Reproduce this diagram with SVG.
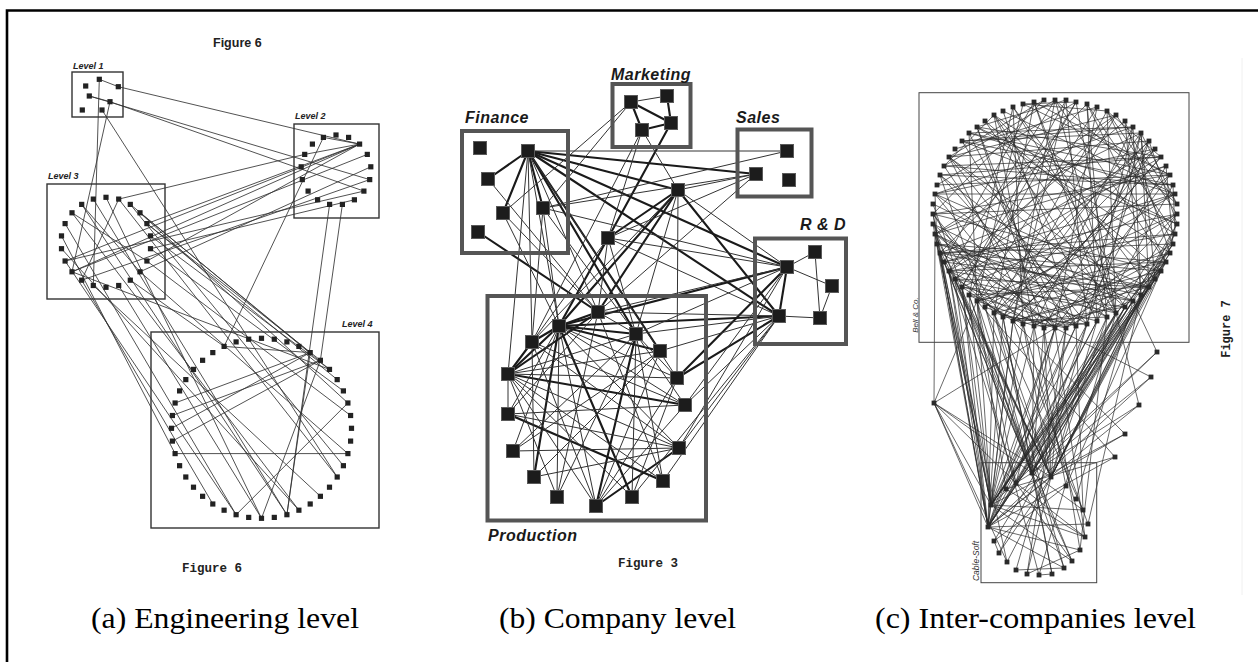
<svg xmlns="http://www.w3.org/2000/svg" xmlns:xlink="http://www.w3.org/1999/xlink" width="1258" height="662" viewBox="0 0 1258 662">
<style>
.bxa{fill:none;stroke:#333;stroke-width:1.4}
.na{fill:#222}
.ea line{stroke:#333;stroke-width:0.85}
.bxb{fill:none;stroke:#555;stroke-width:4}
.nb{fill:#1c1c1c;stroke:#5a5a5a;stroke-width:1}
.tn{stroke:#333;stroke-width:1}
.tk{stroke:#1a1a1a;stroke-width:2.1}
.eb line{stroke-linecap:round}
.bxc{fill:none;stroke:#444;stroke-width:1}
.nc{fill:#2a2a2a}
.ec line{stroke:#2a2a2a;stroke-width:0.7}
.lva{font-family:"Liberation Sans",Arial,sans-serif;font-weight:bold;font-style:italic;font-size:9px;fill:#222}
.lvb{font-family:"Liberation Sans",Arial,sans-serif;font-weight:bold;font-style:italic;font-size:16px;letter-spacing:0.5px;fill:#1a1a1a}
.lvc{font-family:"Liberation Sans",Arial,sans-serif;font-style:italic;font-size:8px;fill:#333}
.fig{font-family:"Liberation Mono","Courier New",monospace;font-weight:bold;font-size:12.5px;fill:#222}
.cap{font-family:"Liberation Serif","Times New Roman",serif;font-size:29.5px;fill:#000}
</style>
<defs>
<rect id="sa" x="-2.6" y="-2.6" width="5.2" height="5.2"/>
<rect id="sb" x="-6.5" y="-6.5" width="13" height="13"/>
<rect id="sc" x="-2.4" y="-2.4" width="4.8" height="4.8"/>
</defs>
<rect width="1258" height="662" fill="#fff"/>
<path d="M7,662 V10.5 H1258" fill="none" stroke="#000" stroke-width="2.6"/>
<line x1="1242" y1="58" x2="1242" y2="595" stroke="#f0f0f0" stroke-width="1"/>

<!-- ===================== CONNECTORS ===================== -->
<g id="connectors">
<g id="conn-a" class="ea">
<line x1="99.3" y1="79.3" x2="118.3" y2="86.7"/>
<line x1="118.3" y1="86.7" x2="359.6" y2="144.1"/>
<line x1="89.3" y1="96" x2="110" y2="101.7"/>
<line x1="89.3" y1="96" x2="369.7" y2="179.6"/>
<line x1="110" y1="101.7" x2="363.9" y2="191.1"/>
<line x1="99.3" y1="79.3" x2="93.3" y2="285.5"/>
<line x1="110" y1="101.7" x2="72" y2="271.8"/>
<line x1="102" y1="110" x2="337.2" y2="477"/>
<line x1="118.7" y1="199.1" x2="304.7" y2="154.4"/>
<line x1="72" y1="271.8" x2="359.6" y2="144.1"/>
<line x1="72" y1="271.8" x2="367.3" y2="154.4"/>
<line x1="65.1" y1="261" x2="359.6" y2="144.1"/>
<line x1="65.1" y1="261" x2="363.9" y2="191.1"/>
<line x1="81.7" y1="280.2" x2="369.7" y2="179.6"/>
<line x1="146.9" y1="223.6" x2="359.6" y2="144.1"/>
<line x1="150.5" y1="248.7" x2="354.4" y2="199.8"/>
<line x1="146.9" y1="261" x2="359.6" y2="144.1"/>
<line x1="140" y1="271.8" x2="370.8" y2="166.8"/>
<line x1="140" y1="212.8" x2="310.2" y2="352.6"/>
<line x1="146.9" y1="223.6" x2="320.4" y2="360.3"/>
<line x1="150.5" y1="235.9" x2="329.5" y2="369.4"/>
<line x1="146.9" y1="223.6" x2="337.2" y2="379.6"/>
<line x1="150.5" y1="248.7" x2="343.4" y2="390.9"/>
<line x1="130.3" y1="204.4" x2="329.5" y2="369.4"/>
<line x1="140" y1="212.8" x2="347.9" y2="403"/>
<line x1="106" y1="197.3" x2="261.5" y2="518.3"/>
<line x1="81.7" y1="204.4" x2="286.9" y2="514.7"/>
<line x1="72" y1="212.8" x2="298.9" y2="510.2"/>
<line x1="65.1" y1="261" x2="236.1" y2="514.7"/>
<line x1="81.7" y1="280.2" x2="212.8" y2="504"/>
<line x1="61.5" y1="235.9" x2="175.1" y2="453.6"/>
<line x1="93.3" y1="199.1" x2="286.9" y2="514.7"/>
<line x1="118.7" y1="285.5" x2="261.5" y2="518.3"/>
<line x1="93.3" y1="285.5" x2="320.4" y2="496.3"/>
<line x1="130.3" y1="280.2" x2="224.1" y2="346.4"/>
<line x1="140" y1="271.8" x2="347.9" y2="453.6"/>
<line x1="146.9" y1="261" x2="350.6" y2="415.5"/>
<line x1="323.4" y1="137.4" x2="224.1" y2="346.4"/>
<line x1="342.4" y1="204.4" x2="320.4" y2="360.3"/>
<line x1="329.6" y1="204.4" x2="286.9" y2="514.7"/>
<line x1="175.1" y1="453.6" x2="347.9" y2="453.6"/>
<line x1="224.1" y1="346.4" x2="310.2" y2="352.6"/>
<line x1="175.1" y1="403" x2="310.2" y2="352.6"/>
<line x1="172.4" y1="415.5" x2="320.4" y2="360.3"/>
<line x1="171.5" y1="428.3" x2="310.2" y2="352.6"/>
<line x1="172.4" y1="441.1" x2="320.4" y2="360.3"/>
<line x1="347.9" y1="403" x2="236.1" y2="514.7"/>
<line x1="320.4" y1="360.3" x2="261.5" y2="518.3"/>
<line x1="310.2" y1="352.6" x2="286.9" y2="514.7"/>
<line x1="323.4" y1="137.4" x2="359.6" y2="144.1"/>
<line x1="359.6" y1="144.1" x2="304.7" y2="154.4"/>
<line x1="61.5" y1="248.7" x2="298.9" y2="510.2"/>
<line x1="65.1" y1="223.6" x2="236.1" y2="514.7"/>
<line x1="81.7" y1="204.4" x2="140" y2="271.8"/>
<line x1="118.7" y1="199.1" x2="81.7" y2="280.2"/>
<line x1="72" y1="212.8" x2="146.9" y2="261"/>
<line x1="130.3" y1="204.4" x2="343.4" y2="465.7"/>
<line x1="118.7" y1="199.1" x2="337.2" y2="477"/>
<line x1="72" y1="271.8" x2="329.5" y2="369.4"/>
</g>

<g id="conn-b" class="eb">
<line class="tk" x1="667" y1="96" x2="671" y2="123"/>
<line class="tk" x1="631" y1="102" x2="671" y2="123"/>
<line class="tk" x1="631" y1="102" x2="642" y2="130"/>
<line class="tk" x1="642" y1="130" x2="671" y2="123"/>
<line class="tk" x1="528" y1="151" x2="488" y2="179"/>
<line class="tk" x1="528" y1="151" x2="503" y2="213"/>
<line class="tk" x1="528" y1="151" x2="543" y2="208"/>
<line class="tk" x1="528" y1="151" x2="756" y2="174"/>
<line class="tk" x1="528" y1="151" x2="678" y2="190"/>
<line class="tk" x1="528" y1="151" x2="787" y2="267"/>
<line class="tk" x1="528" y1="151" x2="779" y2="316"/>
<line class="tk" x1="528" y1="151" x2="636" y2="334"/>
<line class="tk" x1="528" y1="151" x2="660" y2="351"/>
<line class="tk" x1="478" y1="232" x2="598" y2="312"/>
<line class="tk" x1="671" y1="123" x2="608" y2="238"/>
<line class="tk" x1="678" y1="190" x2="608" y2="238"/>
<line class="tk" x1="678" y1="190" x2="559" y2="326"/>
<line class="tk" x1="678" y1="190" x2="598" y2="312"/>
<line class="tk" x1="678" y1="190" x2="779" y2="316"/>
<line class="tk" x1="608" y1="238" x2="559" y2="326"/>
<line class="tk" x1="559" y1="326" x2="787" y2="267"/>
<line class="tk" x1="559" y1="326" x2="779" y2="316"/>
<line class="tk" x1="677" y1="378" x2="779" y2="316"/>
<line class="tk" x1="677" y1="378" x2="787" y2="267"/>
<line class="tk" x1="787" y1="267" x2="779" y2="316"/>
<line class="tk" x1="559" y1="326" x2="598" y2="312"/>
<line class="tk" x1="559" y1="326" x2="636" y2="334"/>
<line class="tk" x1="559" y1="326" x2="532" y2="342"/>
<line class="tk" x1="559" y1="326" x2="660" y2="351"/>
<line class="tk" x1="559" y1="326" x2="508" y2="374"/>
<line class="tk" x1="559" y1="326" x2="534" y2="477"/>
<line class="tk" x1="559" y1="326" x2="632" y2="497"/>
<line class="tk" x1="598" y1="312" x2="508" y2="374"/>
<line class="tk" x1="636" y1="334" x2="596" y2="506"/>
<line class="tk" x1="532" y1="342" x2="508" y2="374"/>
<line class="tk" x1="508" y1="374" x2="685" y2="405"/>
<line class="tk" x1="508" y1="414" x2="663" y2="481"/>
<line class="tk" x1="596" y1="506" x2="679" y2="448"/>
<line class="tn" x1="631" y1="102" x2="667" y2="96"/>
<line class="tn" x1="528" y1="151" x2="787" y2="151"/>
<line class="tn" x1="528" y1="151" x2="598" y2="312"/>
<line class="tn" x1="528" y1="151" x2="559" y2="326"/>
<line class="tn" x1="528" y1="151" x2="532" y2="342"/>
<line class="tn" x1="528" y1="151" x2="677" y2="378"/>
<line class="tn" x1="528" y1="151" x2="508" y2="374"/>
<line class="tn" x1="543" y1="208" x2="787" y2="151"/>
<line class="tn" x1="543" y1="208" x2="787" y2="267"/>
<line class="tn" x1="543" y1="208" x2="559" y2="326"/>
<line class="tn" x1="543" y1="208" x2="532" y2="342"/>
<line class="tn" x1="543" y1="208" x2="636" y2="334"/>
<line class="tn" x1="756" y1="174" x2="543" y2="208"/>
<line class="tn" x1="503" y1="213" x2="631" y2="102"/>
<line class="tn" x1="503" y1="213" x2="559" y2="326"/>
<line class="tn" x1="503" y1="213" x2="598" y2="312"/>
<line class="tn" x1="488" y1="179" x2="598" y2="312"/>
<line class="tn" x1="631" y1="102" x2="543" y2="208"/>
<line class="tn" x1="642" y1="130" x2="608" y2="238"/>
<line class="tn" x1="642" y1="130" x2="532" y2="342"/>
<line class="tn" x1="642" y1="130" x2="678" y2="190"/>
<line class="tn" x1="678" y1="190" x2="677" y2="378"/>
<line class="tn" x1="678" y1="190" x2="756" y2="174"/>
<line class="tn" x1="678" y1="190" x2="787" y2="267"/>
<line class="tn" x1="678" y1="190" x2="532" y2="342"/>
<line class="tn" x1="678" y1="190" x2="636" y2="334"/>
<line class="tn" x1="608" y1="238" x2="787" y2="267"/>
<line class="tn" x1="608" y1="238" x2="779" y2="316"/>
<line class="tn" x1="608" y1="238" x2="598" y2="312"/>
<line class="tn" x1="608" y1="238" x2="532" y2="342"/>
<line class="tn" x1="608" y1="238" x2="636" y2="334"/>
<line class="tn" x1="756" y1="174" x2="598" y2="312"/>
<line class="tn" x1="756" y1="174" x2="608" y2="238"/>
<line class="tn" x1="598" y1="312" x2="779" y2="316"/>
<line class="tn" x1="598" y1="312" x2="787" y2="267"/>
<line class="tn" x1="636" y1="334" x2="779" y2="316"/>
<line class="tn" x1="636" y1="334" x2="787" y2="267"/>
<line class="tn" x1="660" y1="351" x2="779" y2="316"/>
<line class="tn" x1="685" y1="405" x2="787" y2="267"/>
<line class="tn" x1="685" y1="405" x2="779" y2="316"/>
<line class="tn" x1="679" y1="448" x2="779" y2="316"/>
<line class="tn" x1="663" y1="481" x2="779" y2="316"/>
<line class="tn" x1="679" y1="448" x2="787" y2="267"/>
<line class="tn" x1="632" y1="497" x2="779" y2="316"/>
<line class="tn" x1="787" y1="267" x2="815" y2="252"/>
<line class="tn" x1="787" y1="267" x2="832" y2="286"/>
<line class="tn" x1="815" y1="252" x2="820" y2="318"/>
<line class="tn" x1="832" y1="286" x2="820" y2="318"/>
<line class="tn" x1="779" y1="316" x2="820" y2="318"/>
<line class="tn" x1="559" y1="326" x2="677" y2="378"/>
<line class="tn" x1="559" y1="326" x2="685" y2="405"/>
<line class="tn" x1="559" y1="326" x2="508" y2="414"/>
<line class="tn" x1="559" y1="326" x2="596" y2="506"/>
<line class="tn" x1="559" y1="326" x2="513" y2="451"/>
<line class="tn" x1="559" y1="326" x2="679" y2="448"/>
<line class="tn" x1="559" y1="326" x2="557" y2="497"/>
<line class="tn" x1="598" y1="312" x2="636" y2="334"/>
<line class="tn" x1="598" y1="312" x2="557" y2="497"/>
<line class="tn" x1="598" y1="312" x2="508" y2="414"/>
<line class="tn" x1="598" y1="312" x2="663" y2="481"/>
<line class="tn" x1="636" y1="334" x2="632" y2="497"/>
<line class="tn" x1="636" y1="334" x2="663" y2="481"/>
<line class="tn" x1="636" y1="334" x2="508" y2="374"/>
<line class="tn" x1="636" y1="334" x2="557" y2="497"/>
<line class="tn" x1="636" y1="334" x2="685" y2="405"/>
<line class="tn" x1="636" y1="334" x2="677" y2="378"/>
<line class="tn" x1="532" y1="342" x2="685" y2="405"/>
<line class="tn" x1="532" y1="342" x2="679" y2="448"/>
<line class="tn" x1="532" y1="342" x2="596" y2="506"/>
<line class="tn" x1="532" y1="342" x2="534" y2="477"/>
<line class="tn" x1="508" y1="374" x2="677" y2="378"/>
<line class="tn" x1="508" y1="374" x2="679" y2="448"/>
<line class="tn" x1="508" y1="374" x2="663" y2="481"/>
<line class="tn" x1="508" y1="374" x2="632" y2="497"/>
<line class="tn" x1="508" y1="374" x2="508" y2="414"/>
<line class="tn" x1="508" y1="374" x2="557" y2="497"/>
<line class="tn" x1="508" y1="374" x2="596" y2="506"/>
<line class="tn" x1="508" y1="374" x2="660" y2="351"/>
<line class="tn" x1="508" y1="414" x2="679" y2="448"/>
<line class="tn" x1="508" y1="414" x2="685" y2="405"/>
<line class="tn" x1="513" y1="451" x2="636" y2="334"/>
<line class="tn" x1="534" y1="477" x2="660" y2="351"/>
<line class="tn" x1="534" y1="477" x2="679" y2="448"/>
<line class="tn" x1="596" y1="506" x2="685" y2="405"/>
<line class="tn" x1="596" y1="506" x2="660" y2="351"/>
<line class="tn" x1="596" y1="506" x2="677" y2="378"/>
<line class="tn" x1="632" y1="497" x2="677" y2="378"/>
<line class="tn" x1="679" y1="448" x2="513" y2="451"/>
<line class="tn" x1="660" y1="351" x2="513" y2="451"/>
</g>

<g id="conn-c" class="ec">
<line x1="1055" y1="100" x2="1177" y2="204"/>
<line x1="1066" y1="100" x2="962" y2="287"/>
<line x1="1087" y1="104" x2="1097" y2="321"/>
<line x1="1097" y1="107" x2="955" y2="149"/>
<line x1="1107" y1="111" x2="1177" y2="214"/>
<line x1="1116" y1="115" x2="955" y2="279"/>
<line x1="1133" y1="127" x2="1087" y2="324"/>
<line x1="1141" y1="133" x2="962" y2="141"/>
<line x1="1149" y1="141" x2="1177" y2="224"/>
<line x1="1155" y1="149" x2="949" y2="271"/>
<line x1="1161" y1="157" x2="1107" y2="111"/>
<line x1="1166" y1="166" x2="1076" y2="326"/>
<line x1="1170" y1="175" x2="969" y2="133"/>
<line x1="1173" y1="185" x2="1175" y2="234"/>
<line x1="1175" y1="194" x2="944" y2="262"/>
<line x1="1177" y1="204" x2="1116" y2="115"/>
<line x1="1177" y1="214" x2="1066" y2="328"/>
<line x1="1177" y1="224" x2="977" y2="127"/>
<line x1="1173" y1="244" x2="940" y2="253"/>
<line x1="1170" y1="253" x2="1125" y2="121"/>
<line x1="1166" y1="262" x2="1055" y2="328"/>
<line x1="1161" y1="271" x2="985" y2="121"/>
<line x1="1149" y1="287" x2="937" y2="244"/>
<line x1="1141" y1="295" x2="1133" y2="127"/>
<line x1="1133" y1="301" x2="1044" y2="328"/>
<line x1="1125" y1="307" x2="994" y2="115"/>
<line x1="1116" y1="313" x2="1166" y2="262"/>
<line x1="1107" y1="317" x2="935" y2="234"/>
<line x1="1097" y1="321" x2="1141" y2="133"/>
<line x1="1087" y1="324" x2="1034" y2="326"/>
<line x1="1076" y1="326" x2="1003" y2="111"/>
<line x1="1066" y1="328" x2="1161" y2="271"/>
<line x1="1055" y1="328" x2="933" y2="224"/>
<line x1="1044" y1="328" x2="1149" y2="141"/>
<line x1="1023" y1="324" x2="1013" y2="107"/>
<line x1="1013" y1="321" x2="1155" y2="279"/>
<line x1="1003" y1="317" x2="933" y2="214"/>
<line x1="994" y1="313" x2="1155" y2="149"/>
<line x1="977" y1="301" x2="1023" y2="104"/>
<line x1="969" y1="295" x2="1149" y2="287"/>
<line x1="962" y1="287" x2="933" y2="204"/>
<line x1="955" y1="279" x2="1161" y2="157"/>
<line x1="949" y1="271" x2="1003" y2="317"/>
<line x1="944" y1="262" x2="1034" y2="102"/>
<line x1="940" y1="253" x2="1141" y2="295"/>
<line x1="937" y1="244" x2="935" y2="194"/>
<line x1="935" y1="234" x2="1166" y2="166"/>
<line x1="933" y1="224" x2="994" y2="313"/>
<line x1="933" y1="214" x2="1044" y2="100"/>
<line x1="933" y1="204" x2="1133" y2="301"/>
<line x1="937" y1="185" x2="1170" y2="175"/>
<line x1="940" y1="175" x2="985" y2="307"/>
<line x1="944" y1="166" x2="1055" y2="100"/>
<line x1="949" y1="157" x2="1125" y2="307"/>
<line x1="962" y1="141" x2="1173" y2="185"/>
<line x1="969" y1="133" x2="977" y2="301"/>
<line x1="977" y1="127" x2="1066" y2="100"/>
<line x1="985" y1="121" x2="1116" y2="313"/>
<line x1="994" y1="115" x2="944" y2="166"/>
<line x1="1003" y1="111" x2="1175" y2="194"/>
<line x1="1013" y1="107" x2="969" y2="295"/>
<line x1="1023" y1="104" x2="1076" y2="102"/>
<line x1="1034" y1="102" x2="1107" y2="317"/>
<line x1="1044" y1="100" x2="949" y2="157"/>
<line x1="1055" y1="100" x2="1166" y2="262"/>
<line x1="1066" y1="100" x2="1087" y2="324"/>
<line x1="1076" y1="102" x2="937" y2="185"/>
<line x1="1087" y1="104" x2="1166" y2="262"/>
<line x1="1107" y1="111" x2="1023" y2="104"/>
<line x1="1125" y1="121" x2="1141" y2="295"/>
<line x1="1133" y1="127" x2="969" y2="133"/>
<line x1="1141" y1="133" x2="1003" y2="317"/>
<line x1="1149" y1="141" x2="1087" y2="324"/>
<line x1="1155" y1="149" x2="1023" y2="324"/>
<line x1="1161" y1="157" x2="944" y2="166"/>
<line x1="1166" y1="166" x2="1173" y2="244"/>
<line x1="1170" y1="175" x2="1023" y2="104"/>
<line x1="1173" y1="185" x2="944" y2="166"/>
<line x1="1175" y1="194" x2="969" y2="133"/>
<line x1="1177" y1="204" x2="1141" y2="133"/>
<line x1="1177" y1="214" x2="1003" y2="317"/>
<line x1="1175" y1="234" x2="1087" y2="104"/>
<line x1="1173" y1="244" x2="1107" y2="111"/>
<line x1="1166" y1="262" x2="937" y2="244"/>
<line x1="1155" y1="279" x2="1141" y2="133"/>
<line x1="1149" y1="287" x2="1141" y2="133"/>
<line x1="1141" y1="295" x2="1166" y2="262"/>
<line x1="1133" y1="301" x2="937" y2="244"/>
<line x1="1125" y1="307" x2="1173" y2="244"/>
<line x1="1116" y1="313" x2="1107" y2="111"/>
<line x1="1107" y1="317" x2="1087" y2="104"/>
<line x1="1097" y1="321" x2="1173" y2="185"/>
<line x1="1087" y1="324" x2="1003" y2="317"/>
<line x1="1076" y1="326" x2="1141" y2="133"/>
<line x1="1066" y1="328" x2="969" y2="133"/>
<line x1="1055" y1="328" x2="944" y2="166"/>
<line x1="977" y1="301" x2="1055" y2="328"/>
<line x1="969" y1="295" x2="1076" y2="326"/>
<line x1="962" y1="287" x2="1097" y2="321"/>
<line x1="955" y1="279" x2="1116" y2="313"/>
<line x1="949" y1="271" x2="1133" y2="301"/>
<line x1="944" y1="262" x2="1149" y2="287"/>
<line x1="940" y1="253" x2="1161" y2="271"/>
<line x1="985" y1="307" x2="1034" y2="326"/>
<line x1="994" y1="313" x2="1066" y2="328"/>
<line x1="1013" y1="321" x2="1107" y2="317"/>
<line x1="1023" y1="324" x2="1125" y2="307"/>
<line x1="962" y1="287" x2="1013" y2="321"/>
<line x1="955" y1="279" x2="1044" y2="328"/>
<line x1="969" y1="295" x2="1023" y2="324"/>
<line x1="935" y1="234" x2="1055" y2="328"/>
<line x1="933" y1="224" x2="1116" y2="313"/>
<line x1="949" y1="271" x2="1175" y2="234"/>
<line x1="977" y1="301" x2="1170" y2="253"/>
<line x1="985" y1="307" x2="1175" y2="194"/>
<line x1="944" y1="262" x2="1177" y2="214"/>
<line x1="940" y1="253" x2="1076" y2="326"/>
<line x1="955" y1="279" x2="1149" y2="287"/>
<line x1="994" y1="313" x2="1161" y2="271"/>
<line x1="1034" y1="326" x2="1170" y2="253"/>
<line x1="1055" y1="328" x2="1170" y2="175"/>
<line x1="1013" y1="321" x2="1161" y2="157"/>
<line x1="977" y1="301" x2="1097" y2="107"/>
<line x1="962" y1="287" x2="1076" y2="102"/>
<line x1="949" y1="271" x2="1055" y2="100"/>
<line x1="994" y1="313" x2="1034" y2="102"/>
<line x1="1034" y1="326" x2="994" y2="115"/>
<line x1="1076" y1="326" x2="962" y2="141"/>
<line x1="1116" y1="313" x2="940" y2="175"/>
<line x1="1149" y1="287" x2="935" y2="194"/>
<line x1="985" y1="307" x2="1149" y2="141"/>
<line x1="1003" y1="317" x2="1116" y2="115"/>
<line x1="1044" y1="328" x2="977" y2="127"/>
<line x1="1087" y1="324" x2="949" y2="157"/>
<line x1="949" y1="271" x2="1166" y2="262"/>
<line x1="1055" y1="100" x2="1013" y2="321"/>
<line x1="1076" y1="102" x2="1116" y2="313"/>
<line x1="1116" y1="115" x2="935" y2="234"/>
<line x1="1133" y1="127" x2="935" y2="194"/>
<line x1="1149" y1="141" x2="949" y2="157"/>
<line x1="1161" y1="157" x2="977" y2="127"/>
<line x1="1170" y1="175" x2="933" y2="214"/>
<line x1="994" y1="115" x2="1175" y2="234"/>
<line x1="1013" y1="107" x2="1149" y2="287"/>
<line x1="1034" y1="102" x2="1170" y2="175"/>
<line x1="962" y1="141" x2="1133" y2="127"/>
<line x1="940" y1="175" x2="1161" y2="157"/>
<line x1="935" y1="194" x2="1175" y2="194"/>
<line x1="1055" y1="100" x2="1116" y2="313"/>
<line x1="1066" y1="100" x2="1013" y2="321"/>
<line x1="1076" y1="102" x2="969" y2="295"/>
<line x1="1087" y1="104" x2="940" y2="253"/>
<line x1="1097" y1="107" x2="1055" y2="328"/>
<line x1="1107" y1="111" x2="994" y2="313"/>
<line x1="1116" y1="115" x2="949" y2="157"/>
<line x1="1125" y1="121" x2="949" y2="271"/>
<line x1="1133" y1="127" x2="1034" y2="326"/>
<line x1="1141" y1="133" x2="935" y2="234"/>
<line x1="1149" y1="141" x2="977" y2="301"/>
<line x1="1155" y1="149" x2="935" y2="194"/>
<line x1="1161" y1="157" x2="1013" y2="321"/>
<line x1="1166" y1="166" x2="940" y2="253"/>
<line x1="1170" y1="175" x2="994" y2="313"/>
<line x1="1173" y1="185" x2="940" y2="175"/>
<line x1="1175" y1="194" x2="962" y2="287"/>
<line x1="1177" y1="204" x2="933" y2="214"/>
<line x1="1177" y1="214" x2="977" y2="301"/>
<line x1="1177" y1="224" x2="962" y2="141"/>
<line x1="1175" y1="234" x2="940" y2="253"/>
<line x1="1173" y1="244" x2="1034" y2="326"/>
<line x1="1170" y1="253" x2="977" y2="127"/>
<line x1="1166" y1="262" x2="977" y2="301"/>
<line x1="1161" y1="271" x2="933" y2="214"/>
<line x1="1155" y1="279" x2="994" y2="115"/>
<line x1="1149" y1="287" x2="1013" y2="321"/>
<line x1="1141" y1="295" x2="949" y2="157"/>
<line x1="1133" y1="301" x2="1013" y2="107"/>
<line x1="1125" y1="307" x2="962" y2="287"/>
<line x1="1116" y1="313" x2="1034" y2="102"/>
<line x1="1107" y1="317" x2="935" y2="194"/>
<line x1="1097" y1="321" x2="994" y2="115"/>
<line x1="1087" y1="324" x2="935" y2="234"/>
<line x1="1076" y1="326" x2="940" y2="175"/>
<line x1="1066" y1="328" x2="949" y2="271"/>
<line x1="1055" y1="328" x2="977" y2="127"/>
<line x1="1044" y1="328" x2="935" y2="194"/>
<line x1="1034" y1="326" x2="949" y2="157"/>
<line x1="1023" y1="324" x2="933" y2="214"/>
<!-- Bell to Cable-Soft -->
<line x1="1161" y1="271" x2="991" y2="505"/>
<line x1="1149" y1="287" x2="991" y2="505"/>
<line x1="1116" y1="313" x2="991" y2="505"/>
<line x1="1076" y1="326" x2="991" y2="505"/>
<line x1="1034" y1="326" x2="991" y2="505"/>
<line x1="977" y1="301" x2="991" y2="505"/>
<line x1="949" y1="271" x2="991" y2="505"/>
<line x1="935" y1="234" x2="991" y2="505"/>
<line x1="1175" y1="234" x2="991" y2="505"/>
<line x1="1013" y1="321" x2="991" y2="505"/>
<line x1="1170" y1="253" x2="988" y2="527"/>
<line x1="1133" y1="301" x2="988" y2="527"/>
<line x1="1097" y1="321" x2="988" y2="527"/>
<line x1="1055" y1="328" x2="988" y2="527"/>
<line x1="994" y1="313" x2="988" y2="527"/>
<line x1="962" y1="287" x2="988" y2="527"/>
<line x1="940" y1="253" x2="988" y2="527"/>
<line x1="933" y1="214" x2="988" y2="527"/>
<line x1="1177" y1="214" x2="988" y2="527"/>
<line x1="1155" y1="279" x2="1032" y2="473"/>
<line x1="1125" y1="307" x2="1032" y2="473"/>
<line x1="1087" y1="324" x2="1032" y2="473"/>
<line x1="1044" y1="328" x2="1032" y2="473"/>
<line x1="1003" y1="317" x2="1032" y2="473"/>
<line x1="969" y1="295" x2="1032" y2="473"/>
<line x1="944" y1="262" x2="1032" y2="473"/>
<line x1="933" y1="224" x2="1032" y2="473"/>
<line x1="1173" y1="244" x2="1032" y2="473"/>
<line x1="1166" y1="262" x2="1051" y2="477"/>
<line x1="1141" y1="295" x2="1051" y2="477"/>
<line x1="1107" y1="317" x2="1051" y2="477"/>
<line x1="1066" y1="328" x2="1051" y2="477"/>
<line x1="1023" y1="324" x2="1051" y2="477"/>
<line x1="985" y1="307" x2="1051" y2="477"/>
<line x1="955" y1="279" x2="1051" y2="477"/>
<line x1="937" y1="244" x2="1051" y2="477"/>
<line x1="1177" y1="224" x2="1051" y2="477"/>
<line x1="1116" y1="313" x2="1016" y2="483"/>
<line x1="1055" y1="328" x2="1016" y2="483"/>
<line x1="977" y1="301" x2="1016" y2="483"/>
<line x1="949" y1="271" x2="1016" y2="483"/>
<line x1="1066" y1="328" x2="1027" y2="574"/>
<line x1="1003" y1="317" x2="1052" y2="574"/>
<line x1="969" y1="295" x2="1064" y2="568"/>
<line x1="1023" y1="324" x2="1085" y2="537"/>
<line x1="1087" y1="324" x2="1016" y2="570"/>
<line x1="962" y1="287" x2="1039" y2="575"/>
<line x1="1125" y1="307" x2="999" y2="553"/>
<line x1="1141" y1="295" x2="1088" y2="524"/>
<line x1="1107" y1="317" x2="1080" y2="550"/>
<line x1="994" y1="313" x2="1083" y2="510"/>
<line x1="1034" y1="326" x2="1066" y2="486"/>
<line x1="955" y1="279" x2="1072" y2="561"/>
<line x1="940" y1="253" x2="1007" y2="562"/>
<line x1="1149" y1="287" x2="994" y2="541"/>
<line x1="1133" y1="301" x2="1076" y2="499"/>
<line x1="977" y1="301" x2="1006" y2="489"/>
<line x1="1076" y1="326" x2="1083" y2="510"/>
<line x1="1097" y1="321" x2="1006" y2="489"/>
<line x1="1013" y1="321" x2="1088" y2="524"/>
<line x1="1044" y1="328" x2="1080" y2="550"/>
<line x1="1175" y1="234" x2="1051" y2="477"/>
<line x1="1170" y1="253" x2="1032" y2="473"/>
<line x1="1161" y1="271" x2="988" y2="527"/>
<line x1="1149" y1="287" x2="1051" y2="477"/>
<line x1="1133" y1="301" x2="991" y2="505"/>
<line x1="1116" y1="313" x2="1032" y2="473"/>
<line x1="1097" y1="321" x2="1051" y2="477"/>
<line x1="1076" y1="326" x2="988" y2="527"/>
<line x1="1055" y1="328" x2="991" y2="505"/>
<line x1="1034" y1="326" x2="1032" y2="473"/>
<line x1="1013" y1="321" x2="988" y2="527"/>
<line x1="994" y1="313" x2="1051" y2="477"/>
<line x1="977" y1="301" x2="1032" y2="473"/>
<line x1="962" y1="287" x2="991" y2="505"/>
<line x1="949" y1="271" x2="988" y2="527"/>
<line x1="940" y1="253" x2="1032" y2="473"/>
<line x1="935" y1="234" x2="1051" y2="477"/>
<line x1="933" y1="214" x2="991" y2="505"/>
<line x1="1173" y1="244" x2="991" y2="505"/>
<line x1="1166" y1="262" x2="988" y2="527"/>
<line x1="1155" y1="279" x2="1051" y2="477"/>
<line x1="1141" y1="295" x2="991" y2="505"/>
<line x1="1125" y1="307" x2="988" y2="527"/>
<line x1="1107" y1="317" x2="1032" y2="473"/>
<line x1="1087" y1="324" x2="991" y2="505"/>
<line x1="1066" y1="328" x2="988" y2="527"/>
<line x1="1044" y1="328" x2="1051" y2="477"/>
<line x1="1023" y1="324" x2="991" y2="505"/>
<line x1="1003" y1="317" x2="988" y2="527"/>
<line x1="985" y1="307" x2="1032" y2="473"/>
<line x1="969" y1="295" x2="991" y2="505"/>
<line x1="955" y1="279" x2="988" y2="527"/>
<line x1="944" y1="262" x2="1051" y2="477"/>
<line x1="937" y1="244" x2="991" y2="505"/>
<line x1="933" y1="224" x2="988" y2="527"/>
<line x1="1177" y1="224" x2="1032" y2="473"/>
<line x1="1161" y1="271" x2="1066" y2="486"/>
<line x1="1055" y1="328" x2="1085" y2="537"/>
<line x1="994" y1="313" x2="1064" y2="568"/>
<line x1="1116" y1="313" x2="1039" y2="575"/>
<!-- Cable-Soft internal -->
<line x1="991" y1="505" x2="1085" y2="537"/>
<line x1="988" y1="527" x2="1088" y2="524"/>
<line x1="988" y1="527" x2="1080" y2="550"/>
<line x1="1032" y1="473" x2="1052" y2="574"/>
<line x1="1051" y1="477" x2="1027" y2="574"/>
<line x1="1051" y1="477" x2="999" y2="553"/>
<line x1="1016" y1="483" x2="1072" y2="561"/>
<line x1="991" y1="505" x2="1083" y2="510"/>
<line x1="988" y1="527" x2="1051" y2="477"/>
<line x1="1032" y1="473" x2="1083" y2="510"/>
<line x1="1006" y1="489" x2="1085" y2="537"/>
<line x1="994" y1="541" x2="1066" y2="486"/>
<line x1="1016" y1="570" x2="1064" y2="568"/>
<line x1="994" y1="541" x2="999" y2="553"/>
<line x1="1039" y1="575" x2="1052" y2="574"/>
<line x1="991" y1="505" x2="1072" y2="561"/>
<line x1="988" y1="527" x2="1064" y2="568"/>
<line x1="1032" y1="473" x2="1072" y2="561"/>
<line x1="1051" y1="477" x2="1007" y2="562"/>
<line x1="1016" y1="483" x2="1085" y2="537"/>
<line x1="991" y1="505" x2="988" y2="527"/>
<line x1="1027" y1="574" x2="1080" y2="550"/>
<!-- outside nodes -->
<line x1="934" y1="403" x2="935" y2="234"/>
<line x1="934" y1="403" x2="991" y2="505"/>
<line x1="934" y1="403" x2="988" y2="527"/>
<line x1="934" y1="403" x2="1016" y2="483"/>
<line x1="934" y1="403" x2="1032" y2="473"/>
<line x1="934" y1="403" x2="1055" y2="328"/>
<line x1="934" y1="403" x2="977" y2="301"/>
<line x1="934" y1="403" x2="1051" y2="477"/>
<line x1="934" y1="403" x2="1007" y2="562"/>
<line x1="1157" y1="352" x2="1133" y2="301"/>
<line x1="1157" y1="352" x2="991" y2="505"/>
<line x1="1157" y1="352" x2="1032" y2="473"/>
<line x1="1151" y1="377" x2="1032" y2="473"/>
<line x1="1151" y1="377" x2="1055" y2="328"/>
<line x1="1151" y1="377" x2="988" y2="527"/>
<line x1="1139" y1="405" x2="988" y2="527"/>
<line x1="1139" y1="405" x2="1116" y2="313"/>
<line x1="1139" y1="405" x2="1016" y2="483"/>
<line x1="1125" y1="434" x2="1051" y2="477"/>
<line x1="1125" y1="434" x2="1013" y2="321"/>
<line x1="1125" y1="434" x2="991" y2="505"/>
<line x1="1115" y1="457" x2="1006" y2="489"/>
<line x1="1115" y1="457" x2="977" y2="301"/>
<line x1="1115" y1="457" x2="988" y2="527"/>
</g>
</g>

<!-- ===================== PANEL (a) ===================== -->
<text class="fig" x="213" y="47" style="font-family:'Liberation Sans',Arial,sans-serif;font-size:12.5px">Figure 6</text>

<g id="a-level1">
<rect class="bxa" x="72" y="72" width="51" height="45"/>
<text class="lva" x="73" y="69">Level 1</text>
<g class="na">
<use href="#sa" x="99.3" y="79.3"/><use href="#sa" x="118.3" y="86.7"/><use href="#sa" x="85.7" y="86"/>
<use href="#sa" x="89.3" y="96"/><use href="#sa" x="110" y="101.7"/><use href="#sa" x="82.3" y="110"/><use href="#sa" x="102" y="110"/>
</g>
</g>

<g id="a-level2">
<rect class="bxa" x="294" y="124" width="85" height="94"/>
<text class="lva" x="295" y="119">Level 2</text>
<g class="na">
<use href="#sa" x="336" y="135"/><use href="#sa" x="348.6" y="137.4"/><use href="#sa" x="359.6" y="144.1"/><use href="#sa" x="367.3" y="154.4"/>
<use href="#sa" x="370.8" y="166.8"/><use href="#sa" x="369.7" y="179.6"/><use href="#sa" x="363.9" y="191.1"/><use href="#sa" x="354.4" y="199.8"/>
<use href="#sa" x="342.4" y="204.4"/><use href="#sa" x="329.6" y="204.4"/><use href="#sa" x="317.6" y="199.8"/><use href="#sa" x="308.1" y="191.1"/>
<use href="#sa" x="302.3" y="179.6"/><use href="#sa" x="301.2" y="166.8"/><use href="#sa" x="304.7" y="154.4"/><use href="#sa" x="312.4" y="144.1"/>
<use href="#sa" x="323.4" y="137.4"/>
</g>
</g>

<g id="a-level3">
<rect class="bxa" x="47" y="184" width="118" height="115"/>
<text class="lva" x="48" y="179">Level 3</text>
<g class="na">
<use href="#sa" x="106" y="197.3"/><use href="#sa" x="118.7" y="199.1"/><use href="#sa" x="130.3" y="204.4"/><use href="#sa" x="140" y="212.8"/>
<use href="#sa" x="146.9" y="223.6"/><use href="#sa" x="150.5" y="235.9"/><use href="#sa" x="150.5" y="248.7"/><use href="#sa" x="146.9" y="261"/>
<use href="#sa" x="140" y="271.8"/><use href="#sa" x="130.3" y="280.2"/><use href="#sa" x="118.7" y="285.5"/><use href="#sa" x="106" y="287.3"/>
<use href="#sa" x="93.3" y="285.5"/><use href="#sa" x="81.7" y="280.2"/><use href="#sa" x="72" y="271.8"/><use href="#sa" x="65.1" y="261"/>
<use href="#sa" x="61.5" y="248.7"/><use href="#sa" x="61.5" y="235.9"/><use href="#sa" x="65.1" y="223.6"/><use href="#sa" x="72" y="212.8"/>
<use href="#sa" x="81.7" y="204.4"/><use href="#sa" x="93.3" y="199.1"/>
</g>
</g>

<g id="a-level4">
<rect class="bxa" x="151" y="332" width="228" height="196"/>
<text class="lva" x="342" y="327">Level 4</text>
<g class="na">
<use href="#sa" x="261.5" y="338.3"/><use href="#sa" x="274.3" y="339.2"/><use href="#sa" x="286.9" y="341.9"/><use href="#sa" x="298.9" y="346.4"/>
<use href="#sa" x="310.2" y="352.6"/><use href="#sa" x="320.4" y="360.3"/><use href="#sa" x="329.5" y="369.4"/><use href="#sa" x="337.2" y="379.6"/>
<use href="#sa" x="343.4" y="390.9"/><use href="#sa" x="347.9" y="403"/><use href="#sa" x="350.6" y="415.5"/><use href="#sa" x="351.5" y="428.3"/>
<use href="#sa" x="350.6" y="441.1"/><use href="#sa" x="347.9" y="453.6"/><use href="#sa" x="343.4" y="465.7"/><use href="#sa" x="337.2" y="477"/>
<use href="#sa" x="329.5" y="487.2"/><use href="#sa" x="320.4" y="496.3"/><use href="#sa" x="310.2" y="504"/><use href="#sa" x="298.9" y="510.2"/>
<use href="#sa" x="286.9" y="514.7"/><use href="#sa" x="274.3" y="517.4"/><use href="#sa" x="261.5" y="518.3"/><use href="#sa" x="248.7" y="517.4"/>
<use href="#sa" x="236.1" y="514.7"/><use href="#sa" x="224.1" y="510.2"/><use href="#sa" x="212.8" y="504"/><use href="#sa" x="202.6" y="496.3"/>
<use href="#sa" x="193.5" y="487.2"/><use href="#sa" x="185.8" y="477"/><use href="#sa" x="179.6" y="465.7"/><use href="#sa" x="175.1" y="453.6"/>
<use href="#sa" x="172.4" y="441.1"/><use href="#sa" x="171.5" y="428.3"/><use href="#sa" x="172.4" y="415.5"/><use href="#sa" x="175.1" y="403"/>
<use href="#sa" x="179.6" y="390.9"/><use href="#sa" x="185.8" y="379.6"/><use href="#sa" x="193.5" y="369.4"/><use href="#sa" x="202.6" y="360.3"/>
<use href="#sa" x="212.8" y="352.6"/><use href="#sa" x="224.1" y="346.4"/><use href="#sa" x="236.1" y="341.9"/><use href="#sa" x="248.7" y="339.2"/>
</g>
</g>
<text class="fig" x="182" y="572">Figure 6</text>

<!-- ===================== PANEL (b) ===================== -->
<g id="b-marketing">
<rect class="bxb" x="612.5" y="84" width="78" height="63"/>
<text class="lvb" x="611" y="80">Marketing</text>
<g class="nb">
<use href="#sb" x="631" y="102"/><use href="#sb" x="667" y="96"/><use href="#sb" x="671" y="123"/><use href="#sb" x="642" y="130"/>
</g>
</g>
<g id="b-finance">
<rect class="bxb" x="462" y="131" width="106" height="122"/>
<text class="lvb" x="465" y="123">Finance</text>
<g class="nb">
<use href="#sb" x="480" y="148"/><use href="#sb" x="528" y="151"/><use href="#sb" x="488" y="179"/>
<use href="#sb" x="503" y="213"/><use href="#sb" x="543" y="208"/><use href="#sb" x="478" y="232"/>
</g>
</g>
<g id="b-sales">
<rect class="bxb" x="737.5" y="129.5" width="74" height="67"/>
<text class="lvb" x="736" y="123">Sales</text>
<g class="nb">
<use href="#sb" x="787" y="151"/><use href="#sb" x="756" y="174"/><use href="#sb" x="789" y="180"/>
</g>
</g>
<g id="b-rd">
<rect class="bxb" x="755" y="238.5" width="91" height="105.5"/>
<text class="lvb" x="800" y="230">R &amp; D</text>
<g class="nb">
<use href="#sb" x="787" y="267"/><use href="#sb" x="815" y="252"/><use href="#sb" x="832" y="286"/>
<use href="#sb" x="820" y="318"/><use href="#sb" x="779" y="316"/>
</g>
</g>
<g id="b-free">
<g class="nb">
<use href="#sb" x="678" y="190"/><use href="#sb" x="608" y="238"/>
</g>
</g>
<g id="b-production">
<rect class="bxb" x="487.5" y="296" width="218.5" height="224.5"/>
<text class="lvb" x="488" y="541">Production</text>
<g class="nb">
<use href="#sb" x="598" y="312"/><use href="#sb" x="559" y="326"/><use href="#sb" x="636" y="334"/><use href="#sb" x="532" y="342"/>
<use href="#sb" x="660" y="351"/><use href="#sb" x="508" y="374"/><use href="#sb" x="677" y="378"/><use href="#sb" x="685" y="405"/>
<use href="#sb" x="508" y="414"/><use href="#sb" x="679" y="448"/><use href="#sb" x="513" y="451"/><use href="#sb" x="663" y="481"/>
<use href="#sb" x="534" y="477"/><use href="#sb" x="632" y="497"/><use href="#sb" x="557" y="497"/><use href="#sb" x="596" y="506"/>
</g>
</g>
<text class="fig" x="618" y="567">Figure 3</text>

<!-- ===================== PANEL (c) ===================== -->
<g id="c-bell">
<rect class="bxc" x="919" y="92.7" width="270" height="249.6"/>
<text class="lvc" transform="translate(918 315) rotate(-90)" text-anchor="middle">Bell &amp; Co.</text>
<g class="nc">
<use href="#sc" x="1055" y="100"/><use href="#sc" x="1066" y="100"/><use href="#sc" x="1076" y="102"/><use href="#sc" x="1087" y="104"/>
<use href="#sc" x="1097" y="107"/><use href="#sc" x="1107" y="111"/><use href="#sc" x="1116" y="115"/><use href="#sc" x="1125" y="121"/>
<use href="#sc" x="1133" y="127"/><use href="#sc" x="1141" y="133"/><use href="#sc" x="1149" y="141"/><use href="#sc" x="1155" y="149"/>
<use href="#sc" x="1161" y="157"/><use href="#sc" x="1166" y="166"/><use href="#sc" x="1170" y="175"/><use href="#sc" x="1173" y="185"/>
<use href="#sc" x="1175" y="194"/><use href="#sc" x="1177" y="204"/><use href="#sc" x="1177" y="214"/><use href="#sc" x="1177" y="224"/>
<use href="#sc" x="1175" y="234"/><use href="#sc" x="1173" y="244"/><use href="#sc" x="1170" y="253"/><use href="#sc" x="1166" y="262"/>
<use href="#sc" x="1161" y="271"/><use href="#sc" x="1155" y="279"/><use href="#sc" x="1149" y="287"/><use href="#sc" x="1141" y="295"/>
<use href="#sc" x="1133" y="301"/><use href="#sc" x="1125" y="307"/><use href="#sc" x="1116" y="313"/><use href="#sc" x="1107" y="317"/>
<use href="#sc" x="1097" y="321"/><use href="#sc" x="1087" y="324"/><use href="#sc" x="1076" y="326"/><use href="#sc" x="1066" y="328"/>
<use href="#sc" x="1055" y="328"/><use href="#sc" x="1044" y="328"/><use href="#sc" x="1034" y="326"/><use href="#sc" x="1023" y="324"/>
<use href="#sc" x="1013" y="321"/><use href="#sc" x="1003" y="317"/><use href="#sc" x="994" y="313"/><use href="#sc" x="985" y="307"/>
<use href="#sc" x="977" y="301"/><use href="#sc" x="969" y="295"/><use href="#sc" x="962" y="287"/><use href="#sc" x="955" y="279"/>
<use href="#sc" x="949" y="271"/><use href="#sc" x="944" y="262"/><use href="#sc" x="940" y="253"/><use href="#sc" x="937" y="244"/>
<use href="#sc" x="935" y="234"/><use href="#sc" x="933" y="224"/><use href="#sc" x="933" y="214"/><use href="#sc" x="933" y="204"/>
<use href="#sc" x="935" y="194"/><use href="#sc" x="937" y="185"/><use href="#sc" x="940" y="175"/><use href="#sc" x="944" y="166"/>
<use href="#sc" x="949" y="157"/><use href="#sc" x="955" y="149"/><use href="#sc" x="962" y="141"/><use href="#sc" x="969" y="133"/>
<use href="#sc" x="977" y="127"/><use href="#sc" x="985" y="121"/><use href="#sc" x="994" y="115"/><use href="#sc" x="1003" y="111"/>
<use href="#sc" x="1013" y="107"/><use href="#sc" x="1023" y="104"/><use href="#sc" x="1034" y="102"/><use href="#sc" x="1044" y="100"/>
</g>
</g>
<g id="c-cablesoft">
<rect class="bxc" x="981" y="462.7" width="115.7" height="120"/>
<text class="lvc" transform="translate(979 561) rotate(-90)" text-anchor="middle" style="font-size:8.5px">Cable-Soft</text>
<g class="nc">
<use href="#sc" x="991" y="505"/><use href="#sc" x="988" y="527"/><use href="#sc" x="994" y="541"/><use href="#sc" x="999" y="553"/>
<use href="#sc" x="1007" y="562"/><use href="#sc" x="1016" y="570"/><use href="#sc" x="1027" y="574"/><use href="#sc" x="1039" y="575"/>
<use href="#sc" x="1052" y="574"/><use href="#sc" x="1064" y="568"/><use href="#sc" x="1072" y="561"/><use href="#sc" x="1080" y="550"/>
<use href="#sc" x="1085" y="537"/><use href="#sc" x="1088" y="524"/><use href="#sc" x="1083" y="510"/><use href="#sc" x="1076" y="499"/>
<use href="#sc" x="1066" y="486"/><use href="#sc" x="1051" y="477"/><use href="#sc" x="1032" y="473"/><use href="#sc" x="1016" y="483"/>
<use href="#sc" x="1006" y="489"/>
</g>
</g>
<g id="c-outside">
<g class="nc">
<use href="#sc" x="934" y="403"/><use href="#sc" x="1157" y="352"/><use href="#sc" x="1151" y="377"/>
<use href="#sc" x="1139" y="405"/><use href="#sc" x="1125" y="434"/><use href="#sc" x="1115" y="457"/>
</g>
</g>
<text class="fig" transform="translate(1230 329) rotate(-90)" text-anchor="middle" style="font-size:12px">Figure 7</text>

<!-- ===================== CAPTIONS ===================== -->
<text class="cap" x="91" y="628" textLength="268" lengthAdjust="spacingAndGlyphs">(a) Engineering level</text>
<text class="cap" x="499" y="628" textLength="237" lengthAdjust="spacingAndGlyphs">(b) Company level</text>
<text class="cap" x="875" y="628" textLength="321" lengthAdjust="spacingAndGlyphs">(c) Inter-companies level</text>
</svg>
